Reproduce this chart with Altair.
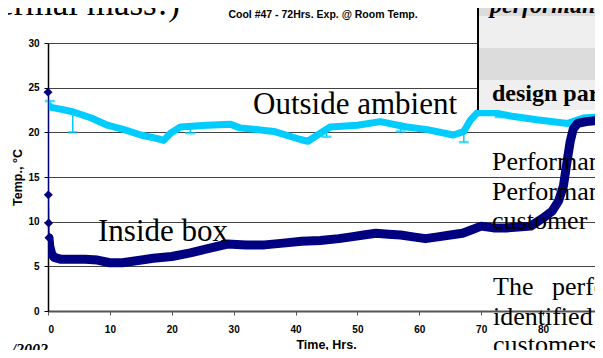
import altair as alt
import pandas as pd

# ---------------- data ----------------
inside_t = [0, 0.05, 0.1, 0.15, 0.3, 0.6, 1, 2, 4, 6, 8, 10, 12, 14, 17, 20, 23, 26, 29,
            32, 35, 38, 41, 44, 47, 49, 51, 53, 55, 57, 59, 61, 63, 65, 67, 68.5, 70, 72,
            74, 76, 78, 80, 81.5, 82.5, 83.3, 83.9, 84.4, 84.9, 85.6, 87, 88.4]
inside_v = [24.5, 13.0, 9.85, 8.2, 7.2, 6.4, 6.0, 5.8, 5.8, 5.8, 5.7, 5.4, 5.4, 5.6, 5.9,
            6.1, 6.5, 7.0, 7.5, 7.4, 7.4, 7.6, 7.8, 7.9, 8.1, 8.3, 8.5, 8.7, 8.6, 8.5, 8.3,
            8.1, 8.3, 8.5, 8.7, 9.1, 9.5, 9.3, 9.3, 9.4, 9.5, 10.4, 11.2, 12.3, 14.0, 16.8,
            19.0, 20.4, 21.0, 21.2, 21.3]

amb_t = [0, 0.5, 2, 4, 7, 9.6, 12.3, 15, 17.7, 18.7, 19.8, 21.4, 25.7, 29.5, 31, 36.5,
         40.8, 42, 44, 45.6, 50, 53.7, 58, 61.3, 65.5, 67.2, 68.3, 69.4, 72, 75, 79, 84,
         86.5, 88.4]
amb_v = [23.1, 22.8, 22.6, 22.3, 21.6, 20.8, 20.3, 19.7, 19.3, 19.1, 19.9, 20.6, 20.8,
         20.9, 20.5, 20.1, 19.2, 19.0, 19.9, 20.6, 20.8, 21.2, 20.6, 20.3, 19.7, 20.1,
         21.4, 22.2, 22.2, 21.8, 21.4, 21.0, 21.6, 21.7]

err_t = [0.3, 4, 23, 45, 57, 67.2, 73]
err_from = [23.1, 22.3, 20.7, 20.6, 20.8, 20.1, 22.2]
err_to = [23.5, 20.0, 19.9, 19.5, 20.1, 18.9, 21.7]

x_ticks = [0, 10, 20, 30, 40, 50, 60, 70, 80]
y_ticks = [0, 5, 10, 15, 20, 25, 30]

inside = pd.DataFrame({"t": inside_t, "v": inside_v})
inside_thick = inside.iloc[3:]
inside_pts = inside.iloc[:4]
amb = pd.DataFrame({"t": amb_t, "v": amb_v})
err = pd.DataFrame({"t": err_t, "a": err_from, "b": err_to})

NAVY = "#000080"
CYAN = "#00ccff"
SANS = "Liberation Sans"
SERIF = "Liberation Serif"

xs = alt.Scale(domain=[0, 88.4], nice=False, zero=False)
ys = alt.Scale(domain=[0, 30], nice=False)

x_axis = alt.Axis(values=x_ticks, title="Time, Hrs.", grid=False,
                  domainColor="#555555", domainWidth=2, tickColor="#555555", tickSize=4,
                  labelFont=SANS, labelFontWeight="bold", labelFontSize=10,
                  labelColor="black", labelPadding=9,
                  titleFont=SANS, titleFontWeight="bold", titleFontSize=12.5,
                  titleColor="black", titleX=278, titleY=37,
                  titleBaseline="alphabetic", titleAlign="center")
y_axis = alt.Axis(values=y_ticks, title="Temp., °C", grid=True,
                  gridColor="#444444", gridWidth=1,
                  domainColor="black", domainWidth=1.5, tickColor="black", tickSize=4,
                  labelFont=SANS, labelFontWeight="bold", labelFontSize=10,
                  labelColor="black", labelPadding=5,
                  titleFont=SANS, titleFontWeight="bold", titleFontSize=12.5,
                  titleColor="black", titleAngle=270, titleX=-27, titleY=134,
                  titleBaseline="alphabetic", titleAlign="center")

X = alt.X("t:Q", scale=xs, axis=x_axis)
Y = alt.Y("v:Q", scale=ys, axis=y_axis)

amb_line = alt.Chart(amb).mark_line(color=CYAN, strokeWidth=7, clip=True,
                                    strokeJoin="round", strokeCap="round").encode(x=X, y=Y)
err_rule = alt.Chart(err).mark_rule(color=CYAN, strokeWidth=1.5).encode(
    x=alt.X("t:Q", scale=xs, axis=x_axis), y=alt.Y("a:Q", scale=ys, axis=y_axis), y2="b:Q")
err_cap = alt.Chart(err).mark_tick(color=CYAN, thickness=2.5, size=10, orient="horizontal").encode(
    x=alt.X("t:Q", scale=xs, axis=x_axis), y=alt.Y("b:Q", scale=ys, axis=y_axis))
in_thin = alt.Chart(inside).mark_line(color=NAVY, strokeWidth=1.5, clip=True).encode(x=X, y=Y)
in_thick = alt.Chart(inside_thick).mark_line(color=NAVY, strokeWidth=9, clip=True,
                                              strokeJoin="round", strokeCap="round").encode(x=X, y=Y)
in_pts = alt.Chart(inside_pts).mark_point(shape="diamond", filled=True, color=NAVY,
                                           size=80, opacity=1).encode(x=X, y=Y)

ONE = alt.Data(values=[{}])


def rect(x1, x2, y1, y2, color):
    return alt.Chart(ONE).mark_rect(color=color).encode(
        x=alt.value(x1), x2=alt.value(x2), y=alt.value(y1), y2=alt.value(y2))


def txt(s, x, y, size, font=SERIF, weight="normal", style="normal", align="left"):
    return alt.Chart(ONE).mark_text(text=s, font=font, fontSize=size, fontWeight=weight,
                                    fontStyle=style, align=align, baseline="alphabetic",
                                    color="black").encode(x=alt.value(x), y=alt.value(y))


panel = [
    rect(430, 560, -43, -27, "#dcdcdc"),
    rect(430, 560, -27, 5, "#efefef"),
    rect(430, 560, 5, 37, "#dcdcdc"),
    rect(430, 560, 37, 67, "#efefef"),
    alt.Chart(ONE).mark_rule(color="black", strokeWidth=2).encode(
        x=alt.value(430), y=alt.value(-43), y2=alt.value(67)),
    txt("performance", 442, -30, 24, weight="bold", style="italic"),
    txt("design parameters", 444, 58, 24, weight="bold"),
]

texts = [
    txt("Cool #47 - 72Hrs. Exp. @ Room Temp.", 275, -25, 10.5, font=SANS,
        weight="bold", align="center"),
    txt("thermal mass!)", 132, -28, 35, align="right"),
    txt("Outside ambient", 205, 71, 31),
    txt("Inside box", 50, 198, 31),
    txt("Performance", 444, 127, 26),
    txt("Performance", 444, 157, 26),
    txt("customer", 444, 186, 26),
    txt("The", 445, 252, 26),
    txt("performance", 504, 252, 26),
    txt("identified", 445, 282, 26),
    txt("customers.", 445, 310, 26),
    txt("/2002", 0, 312, 16, weight="bold", style="italic", align="right"),
]

chart = alt.layer(
    amb_line, err_rule, err_cap, in_thin, in_thick, in_pts, *panel, *texts
).properties(
    width=547, height=268,
    autosize=alt.AutoSizeParams(type="none"),
    padding={"left": 40, "top": 35, "right": 0, "bottom": 39},
    background="white",
).configure_view(stroke=None)

chart.save("out.html", embed_options={"renderer": "svg", "actions": False})
